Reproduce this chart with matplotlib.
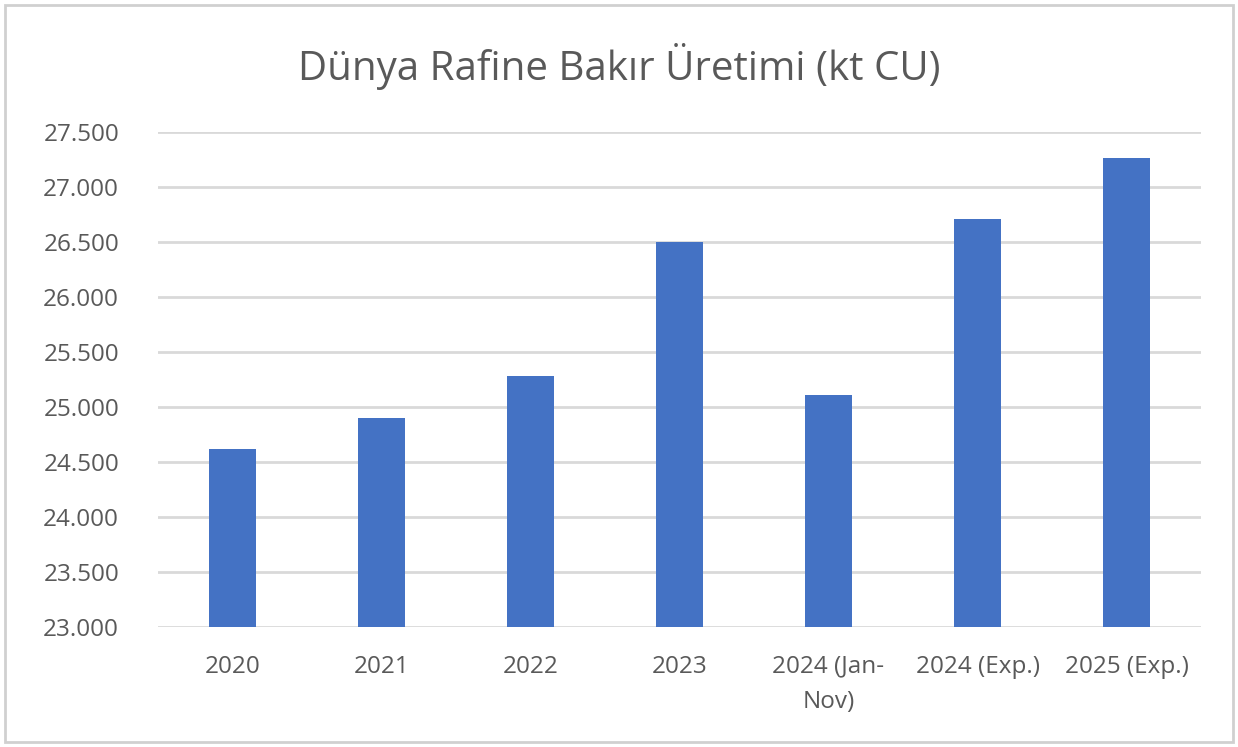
import matplotlib.pyplot as plt
from matplotlib.ticker import FuncFormatter, MultipleLocator
from matplotlib.patches import Rectangle

categories = ['2020', '2021', '2022', '2023', '2024 (Jan-\nNov)', '2024 (Exp.)', '2025 (Exp.)']
production = [24620, 24900, 25280, 26500, 25110, 26710, 27260]

plt.rcParams['font.family'] = ['Open Sans', 'DejaVu Sans']

fig = plt.figure(figsize=(12.38, 7.47), dpi=100)
ax = fig.add_axes((158 / 1238, 1 - 627 / 747, (1201 - 158) / 1238, (627 - 132) / 747))

ax.bar(range(len(categories)), production, width=0.32, color='#4472C4', zorder=3)

ax.set_xlim(-0.5, len(categories) - 0.5)
ax.set_ylim(23000, 27500)
ax.yaxis.set_major_locator(MultipleLocator(500))
ax.yaxis.set_major_formatter(FuncFormatter(lambda v, p: '{:,.0f}'.format(v).replace(',', '.')))
ax.set_xticks(range(len(categories)))
ax.set_xticklabels(categories, linespacing=1.6, va='top')

ax.grid(axis='y', color='#d9d9d9', linewidth=2, zorder=0)
for s in ax.spines.values():
    s.set_visible(False)
ax.tick_params(length=0, labelsize=17.5, colors='#595959', pad=20)
ax.tick_params(axis='y', pad=28)

fig.text(0.5, 1 - 66 / 747, 'Dünya Rafine Bakır Üretimi (kt CU)', ha='center', va='center',
         fontsize=29, color='#595959')

fig.patches.append(Rectangle((5 / 1238, 5 / 747), 1 - 10 / 1238, 1 - 10 / 747, transform=fig.transFigure,
                             fill=False, edgecolor='#d0d0d0', linewidth=2))

fig.savefig('out.png', dpi=100)
